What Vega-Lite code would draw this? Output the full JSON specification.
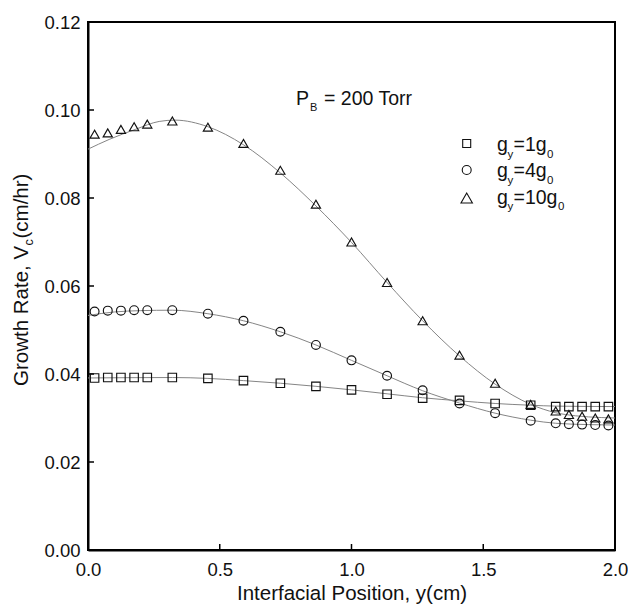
{
  "$schema": "https://vega.github.io/schema/vega-lite/v6.json",
  "width": 527,
  "height": 528,
  "autosize": {"type": "none"},
  "padding": {"left": 88, "top": 22, "right": 13, "bottom": 60},
  "background": "white",
  "data": {"values": [{}]},
  "config": {
    "view": {"stroke": "black", "strokeWidth": 2},
    "font": "Liberation Sans",
    "axis": {
      "domainColor": "black",
      "domainWidth": 2,
      "ticks": false,
      "grid": false,
      "labelFont": "Liberation Sans",
      "labelFontSize": 18.5,
      "labelColor": "#111",
      "titleFont": "Liberation Sans",
      "titleFontSize": 20.5,
      "titleFontWeight": "normal",
      "titleColor": "#111"
    },
    "text": {"font": "Liberation Sans", "color": "#111"}
  },
  "datasets": {
    "xticks": [{"t": 0.5}, {"t": 1.0}, {"t": 1.5}],
    "yticks": [{"t": 0.02}, {"t": 0.04}, {"t": 0.06}, {"t": 0.08}, {"t": 0.10}],
    "markers": [
      {"s": "10g", "x": 0.025, "v": 0.0945}, {"s": "10g", "x": 0.075, "v": 0.0948}, {"s": "10g", "x": 0.125, "v": 0.0956},
      {"s": "10g", "x": 0.175, "v": 0.0962}, {"s": "10g", "x": 0.225, "v": 0.0968}, {"s": "10g", "x": 0.32, "v": 0.0975},
      {"s": "10g", "x": 0.455, "v": 0.0961}, {"s": "10g", "x": 0.59, "v": 0.0924}, {"s": "10g", "x": 0.73, "v": 0.0863},
      {"s": "10g", "x": 0.865, "v": 0.0786}, {"s": "10g", "x": 1.0, "v": 0.0700}, {"s": "10g", "x": 1.135, "v": 0.0608},
      {"s": "10g", "x": 1.27, "v": 0.0521}, {"s": "10g", "x": 1.41, "v": 0.0443}, {"s": "10g", "x": 1.545, "v": 0.0379},
      {"s": "10g", "x": 1.68, "v": 0.0331}, {"s": "10g", "x": 1.775, "v": 0.0316}, {"s": "10g", "x": 1.825, "v": 0.0308},
      {"s": "10g", "x": 1.875, "v": 0.0304}, {"s": "10g", "x": 1.925, "v": 0.0300}, {"s": "10g", "x": 1.975, "v": 0.0298},
      {"s": "4g", "x": 0.025, "v": 0.0542}, {"s": "4g", "x": 0.075, "v": 0.0544}, {"s": "4g", "x": 0.125, "v": 0.0544},
      {"s": "4g", "x": 0.175, "v": 0.0545}, {"s": "4g", "x": 0.225, "v": 0.0545}, {"s": "4g", "x": 0.32, "v": 0.0545},
      {"s": "4g", "x": 0.455, "v": 0.0537}, {"s": "4g", "x": 0.59, "v": 0.0521}, {"s": "4g", "x": 0.73, "v": 0.0496},
      {"s": "4g", "x": 0.865, "v": 0.0466}, {"s": "4g", "x": 1.0, "v": 0.0431}, {"s": "4g", "x": 1.135, "v": 0.0396},
      {"s": "4g", "x": 1.27, "v": 0.0363}, {"s": "4g", "x": 1.41, "v": 0.0333}, {"s": "4g", "x": 1.545, "v": 0.0311},
      {"s": "4g", "x": 1.68, "v": 0.0294}, {"s": "4g", "x": 1.775, "v": 0.0288}, {"s": "4g", "x": 1.825, "v": 0.0286},
      {"s": "4g", "x": 1.875, "v": 0.0285}, {"s": "4g", "x": 1.925, "v": 0.0284}, {"s": "4g", "x": 1.975, "v": 0.0283},
      {"s": "1g", "x": 0.025, "v": 0.0391}, {"s": "1g", "x": 0.075, "v": 0.0392}, {"s": "1g", "x": 0.125, "v": 0.0392},
      {"s": "1g", "x": 0.175, "v": 0.0392}, {"s": "1g", "x": 0.225, "v": 0.0392}, {"s": "1g", "x": 0.32, "v": 0.0392},
      {"s": "1g", "x": 0.455, "v": 0.0390}, {"s": "1g", "x": 0.59, "v": 0.0385}, {"s": "1g", "x": 0.73, "v": 0.0379},
      {"s": "1g", "x": 0.865, "v": 0.0372}, {"s": "1g", "x": 1.0, "v": 0.0364}, {"s": "1g", "x": 1.135, "v": 0.0354},
      {"s": "1g", "x": 1.27, "v": 0.0345}, {"s": "1g", "x": 1.41, "v": 0.0340}, {"s": "1g", "x": 1.545, "v": 0.0333},
      {"s": "1g", "x": 1.68, "v": 0.0329}, {"s": "1g", "x": 1.775, "v": 0.0326}, {"s": "1g", "x": 1.825, "v": 0.0326},
      {"s": "1g", "x": 1.875, "v": 0.0326}, {"s": "1g", "x": 1.925, "v": 0.0326}, {"s": "1g", "x": 1.975, "v": 0.0326}
    ],
    "curves": [
      {"s": "10g", "x": 0.0, "v": 0.0911}, {"s": "10g", "x": 0.08, "v": 0.0933}, {"s": "10g", "x": 0.18, "v": 0.0956},
      {"s": "10g", "x": 0.27, "v": 0.0974}, {"s": "10g", "x": 0.33, "v": 0.0977}, {"s": "10g", "x": 0.455, "v": 0.0962},
      {"s": "10g", "x": 0.59, "v": 0.0921}, {"s": "10g", "x": 0.73, "v": 0.0857}, {"s": "10g", "x": 0.865, "v": 0.0782},
      {"s": "10g", "x": 1.0, "v": 0.0699}, {"s": "10g", "x": 1.135, "v": 0.0608}, {"s": "10g", "x": 1.27, "v": 0.0521},
      {"s": "10g", "x": 1.41, "v": 0.0441}, {"s": "10g", "x": 1.545, "v": 0.0377}, {"s": "10g", "x": 1.68, "v": 0.0331},
      {"s": "10g", "x": 1.775, "v": 0.0312}, {"s": "10g", "x": 1.85, "v": 0.0305}, {"s": "10g", "x": 1.95, "v": 0.0301},
      {"s": "10g", "x": 2.0, "v": 0.0300},
      {"s": "4g", "x": 0.0, "v": 0.0533}, {"s": "4g", "x": 0.1, "v": 0.0541}, {"s": "4g", "x": 0.2, "v": 0.0544},
      {"s": "4g", "x": 0.32, "v": 0.0545}, {"s": "4g", "x": 0.455, "v": 0.0537}, {"s": "4g", "x": 0.59, "v": 0.0521},
      {"s": "4g", "x": 0.73, "v": 0.0496}, {"s": "4g", "x": 0.865, "v": 0.0466}, {"s": "4g", "x": 1.0, "v": 0.0431},
      {"s": "4g", "x": 1.135, "v": 0.0396}, {"s": "4g", "x": 1.27, "v": 0.0362}, {"s": "4g", "x": 1.41, "v": 0.0334},
      {"s": "4g", "x": 1.545, "v": 0.0311}, {"s": "4g", "x": 1.68, "v": 0.0295}, {"s": "4g", "x": 1.775, "v": 0.0288},
      {"s": "4g", "x": 1.9, "v": 0.0285}, {"s": "4g", "x": 2.0, "v": 0.0284},
      {"s": "1g", "x": 0.0, "v": 0.0391}, {"s": "1g", "x": 0.32, "v": 0.0392}, {"s": "1g", "x": 0.455, "v": 0.0390},
      {"s": "1g", "x": 0.59, "v": 0.0385}, {"s": "1g", "x": 0.73, "v": 0.0379}, {"s": "1g", "x": 0.865, "v": 0.0372},
      {"s": "1g", "x": 1.0, "v": 0.0364}, {"s": "1g", "x": 1.135, "v": 0.0355}, {"s": "1g", "x": 1.27, "v": 0.0346},
      {"s": "1g", "x": 1.41, "v": 0.0339}, {"s": "1g", "x": 1.545, "v": 0.0333}, {"s": "1g", "x": 1.68, "v": 0.0329},
      {"s": "1g", "x": 1.775, "v": 0.0327}, {"s": "1g", "x": 2.0, "v": 0.0326}
    ]
  },
  "layer": [
    {
      "data": {"name": "curves"},
      "mark": {"type": "line", "color": "#858585", "strokeWidth": 1, "interpolate": "monotone"},
      "encoding": {
        "x": {"field": "x", "type": "quantitative",
              "scale": {"domain": [0, 2], "nice": false, "zero": false},
              "axis": {"values": [0, 0.5, 1, 1.5, 2], "format": ".1f", "labelPadding": 10, "labelFlush": false, "labelOverlap": false,
                       "title": "Interfacial Position, y(cm)", "titlePadding": 5}},
        "y": {"field": "v", "type": "quantitative",
              "scale": {"domain": [0, 0.12], "nice": false, "zero": false},
              "axis": {"values": [0, 0.02, 0.04, 0.06, 0.08, 0.1, 0.12], "format": ".2f", "labelPadding": 8, "labelFlush": false, "labelOverlap": false, "title": null}},
        "detail": {"field": "s"}
      }
    },
    {
      "data": {"name": "xticks"},
      "mark": {"type": "rule", "color": "black", "strokeWidth": 1.5},
      "encoding": {"x": {"field": "t", "type": "quantitative"}, "y": {"datum": 0}, "y2": {"datum": 0.00136}}
    },
    {
      "data": {"name": "yticks"},
      "mark": {"type": "rule", "color": "black", "strokeWidth": 1.5},
      "encoding": {"y": {"field": "t", "type": "quantitative"}, "x": {"datum": 0}, "x2": {"datum": 0.0228}}
    },
    {
      "data": {"name": "markers"},
      "mark": {"type": "point", "filled": false, "stroke": "#111", "strokeWidth": 1.15, "opacity": 1},
      "encoding": {
        "x": {"field": "x", "type": "quantitative", "title": "Interfacial Position, y(cm)"},
        "y": {"field": "v", "type": "quantitative", "title": null},
        "shape": {"field": "s", "type": "nominal", "scale": {"domain": ["1g", "4g", "10g"], "range": ["square", "circle", "triangle-up"]}, "legend": null},
        "size": {"field": "s", "type": "nominal", "scale": {"domain": ["1g", "4g", "10g"], "range": [72, 85, 130]}, "legend": null}
      }
    },
    {"mark": {"type": "point", "shape": "square", "size": 64, "filled": false, "stroke": "#111", "strokeWidth": 1.1, "opacity": 1},
     "encoding": {"x": {"datum": 1.4372}, "y": {"datum": 0.09239}}},
    {"mark": {"type": "point", "shape": "circle", "size": 80, "filled": false, "stroke": "#111", "strokeWidth": 1.1, "opacity": 1},
     "encoding": {"x": {"datum": 1.4372}, "y": {"datum": 0.08636}}},
    {"mark": {"type": "point", "shape": "triangle-up", "size": 130, "filled": false, "stroke": "#111", "strokeWidth": 1.1, "opacity": 1},
     "encoding": {"x": {"datum": 1.4372}, "y": {"datum": 0.0800}}},

    {"mark": {"type": "text", "align": "left", "baseline": "alphabetic", "fontSize": 19.5, "dx": 0},
     "encoding": {"x": {"datum": 1.5522}, "y": {"datum": 0.09068}, "text": {"value": "g"}}},
    {"mark": {"type": "text", "align": "left", "baseline": "alphabetic", "fontSize": 11.5, "dx": 10.5, "dy": 6.5},
     "encoding": {"x": {"datum": 1.5522}, "y": {"datum": 0.09068}, "text": {"value": "y"}}},
    {"mark": {"type": "text", "align": "left", "baseline": "alphabetic", "fontSize": 19.5, "dx": 16.5},
     "encoding": {"x": {"datum": 1.5522}, "y": {"datum": 0.09068}, "text": {"value": "=1g"}}},
    {"mark": {"type": "text", "align": "left", "baseline": "alphabetic", "fontSize": 11.5, "dx": 50, "dy": 6.5},
     "encoding": {"x": {"datum": 1.5522}, "y": {"datum": 0.09068}, "text": {"value": "0"}}},

    {"mark": {"type": "text", "align": "left", "baseline": "alphabetic", "fontSize": 19.5, "dx": 0},
     "encoding": {"x": {"datum": 1.5522}, "y": {"datum": 0.08466}, "text": {"value": "g"}}},
    {"mark": {"type": "text", "align": "left", "baseline": "alphabetic", "fontSize": 11.5, "dx": 10.5, "dy": 6.5},
     "encoding": {"x": {"datum": 1.5522}, "y": {"datum": 0.08466}, "text": {"value": "y"}}},
    {"mark": {"type": "text", "align": "left", "baseline": "alphabetic", "fontSize": 19.5, "dx": 16.5},
     "encoding": {"x": {"datum": 1.5522}, "y": {"datum": 0.08466}, "text": {"value": "=4g"}}},
    {"mark": {"type": "text", "align": "left", "baseline": "alphabetic", "fontSize": 11.5, "dx": 50, "dy": 6.5},
     "encoding": {"x": {"datum": 1.5522}, "y": {"datum": 0.08466}, "text": {"value": "0"}}},

    {"mark": {"type": "text", "align": "left", "baseline": "alphabetic", "fontSize": 19.5, "dx": 0},
     "encoding": {"x": {"datum": 1.5522}, "y": {"datum": 0.07864}, "text": {"value": "g"}}},
    {"mark": {"type": "text", "align": "left", "baseline": "alphabetic", "fontSize": 11.5, "dx": 10.5, "dy": 6.5},
     "encoding": {"x": {"datum": 1.5522}, "y": {"datum": 0.07864}, "text": {"value": "y"}}},
    {"mark": {"type": "text", "align": "left", "baseline": "alphabetic", "fontSize": 19.5, "dx": 16.5},
     "encoding": {"x": {"datum": 1.5522}, "y": {"datum": 0.07864}, "text": {"value": "=10g"}}},
    {"mark": {"type": "text", "align": "left", "baseline": "alphabetic", "fontSize": 11.5, "dx": 61, "dy": 6.5},
     "encoding": {"x": {"datum": 1.5522}, "y": {"datum": 0.07864}, "text": {"value": "0"}}},

    {"mark": {"type": "text", "align": "left", "baseline": "alphabetic", "fontSize": 19.5, "dx": 0},
     "encoding": {"x": {"datum": 0.7894}, "y": {"datum": 0.10114}, "text": {"value": "P"}}},
    {"mark": {"type": "text", "align": "left", "baseline": "alphabetic", "fontSize": 11, "dx": 14, "dy": 6},
     "encoding": {"x": {"datum": 0.7894}, "y": {"datum": 0.10114}, "text": {"value": "B"}}},
    {"mark": {"type": "text", "align": "left", "baseline": "alphabetic", "fontSize": 19.5, "dx": 28},
     "encoding": {"x": {"datum": 0.7894}, "y": {"datum": 0.10114}, "text": {"value": "= 200 Torr"}}},

    {"mark": {"type": "text", "align": "left", "baseline": "alphabetic", "fontSize": 20.5, "angle": 270, "dx": 0},
     "encoding": {"x": {"datum": -0.2277}, "y": {"datum": 0.03727}, "text": {"value": "Growth Rate, V"}}},
    {"mark": {"type": "text", "align": "left", "baseline": "alphabetic", "fontSize": 12.5, "angle": 270, "dx": 140.5, "dy": 5},
     "encoding": {"x": {"datum": -0.2277}, "y": {"datum": 0.03727}, "text": {"value": "c"}}},
    {"mark": {"type": "text", "align": "left", "baseline": "alphabetic", "fontSize": 20.5, "angle": 270, "dx": 147.5},
     "encoding": {"x": {"datum": -0.2277}, "y": {"datum": 0.03727}, "text": {"value": "(cm/hr)"}}}
  ]
}
